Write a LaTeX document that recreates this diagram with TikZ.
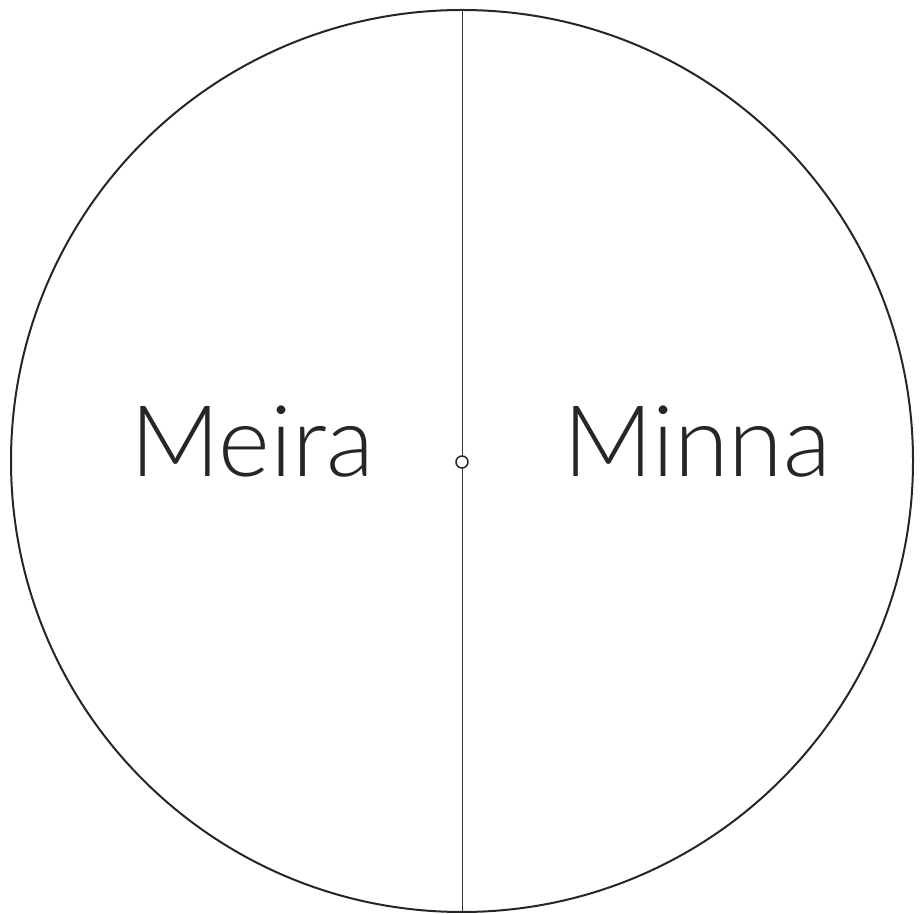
\documentclass[tikz,border=0pt]{standalone}
\usepackage{fontspec}
\setmainfont{Lato Light}[UprightFont={Lato Light}]
\begin{document}
\begin{tikzpicture}[x=1pt,y=1pt,
  lbl/.style={font=\fontsize{99}{99}\selectfont, text=black!85, anchor=base, inner sep=0pt},
  rim/.style={draw=black!85, line width=2pt, circle, inner sep=0pt, minimum size=902pt},
  pivot/.style={draw=black!85, fill=white, line width=1.5pt, circle, inner sep=0pt, minimum size=12pt}]
\useasboundingbox (0,0) rectangle (923,913);
\node[rim] (c) at (462,452) {};
\draw[black!80, line width=1pt] (c.north) -- (c.south);
\node[pivot] (p) at (462,451) {};
\node[lbl] (meira) at (252.5,436) {Meira};
\node[lbl] (minna) at (697,436) {Minna};
\end{tikzpicture}
\end{document}
